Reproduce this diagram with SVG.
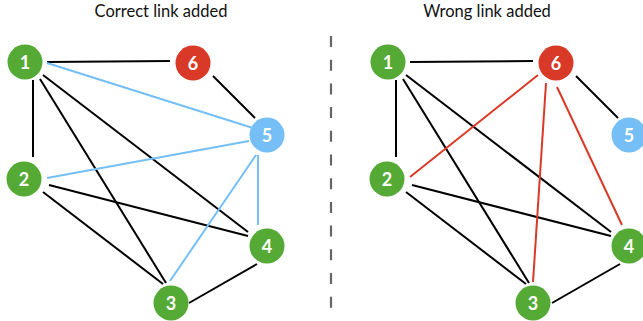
<svg xmlns="http://www.w3.org/2000/svg" width="643" height="321" viewBox="0 0 643 321">
<style>
.t{font-family:Lato,"Noto Sans","Liberation Sans",sans-serif;font-size:16.5px;fill:#111;text-anchor:middle}
.n text{font-family:Lato,"Open Sans","Liberation Sans",sans-serif;font-weight:bold;font-size:18px;fill:#fff;text-anchor:middle;dominant-baseline:central}
.g circle{fill:#55aa35}
.r circle{fill:#d83a27}
.b circle{fill:#75bff6}
.k{stroke:#000;stroke-width:2;fill:none}
.bl{stroke:#75bff6;stroke-width:2;fill:none}
.rd{stroke:#d83a27;stroke-width:2;fill:none}
</style>
<rect width="643" height="321" fill="#fff"/>
<text class="t" x="161" y="17">Correct link added</text>
<text class="t" x="487" y="17">Wrong link added</text>
<line x1="331" y1="36" x2="331" y2="312" stroke="#666" stroke-width="2.2" stroke-dasharray="11 12.7"/>
<g id="connectors">
  <g id="left-edges">
    <line class="k" x1="47" y1="62" x2="170" y2="61"/>
    <line class="k" x1="213" y1="76" x2="255" y2="118"/>
    <line class="k" x1="33" y1="80" x2="33" y2="157"/>
    <line class="k" x1="40" y1="79" x2="166" y2="283"/>
    <line class="k" x1="43" y1="75" x2="248" y2="232"/>
    <line class="k" x1="49" y1="185" x2="248" y2="236"/>
    <line class="k" x1="43" y1="192" x2="163" y2="284"/>
    <line class="k" x1="189" y1="303" x2="257" y2="264"/>
    <line class="bl" x1="47" y1="63" x2="253" y2="128"/>
    <line class="bl" x1="47" y1="178" x2="249" y2="141"/>
    <line class="bl" x1="170" y1="281" x2="256" y2="155"/>
    <line class="bl" x1="258" y1="155" x2="258" y2="225"/>
  </g>
  <g id="right-edges">
    <line class="k" x1="410" y1="62" x2="533" y2="61"/>
    <line class="k" x1="576" y1="76" x2="618" y2="118"/>
    <line class="k" x1="396" y1="80" x2="396" y2="157"/>
    <line class="k" x1="403" y1="79" x2="529" y2="283"/>
    <line class="k" x1="406" y1="75" x2="611" y2="232"/>
    <line class="k" x1="412" y1="185" x2="611" y2="236"/>
    <line class="k" x1="406" y1="192" x2="526" y2="284"/>
    <line class="k" x1="552" y1="303" x2="620" y2="264"/>
    <line class="rd" x1="538" y1="75" x2="410" y2="177"/>
    <line class="rd" x1="546" y1="83" x2="533" y2="282"/>
    <line class="rd" x1="557" y1="87" x2="622" y2="225"/>
  </g>
</g>
<g id="L1" class="n g"><circle cx="25" cy="62" r="17.5"/><text x="25" y="62">1</text></g>
<g id="L6" class="n r"><circle cx="193" cy="63" r="17.5"/><text x="193" y="63">6</text></g>
<g id="L5" class="n b"><circle cx="267" cy="135" r="17.5"/><text x="267" y="135">5</text></g>
<g id="L2" class="n g"><circle cx="24" cy="179" r="17.5"/><text x="24" y="179">2</text></g>
<g id="L4" class="n g"><circle cx="267" cy="246" r="17.5"/><text x="267" y="246">4</text></g>
<g id="L3" class="n g"><circle cx="171" cy="303" r="17.5"/><text x="171" y="303">3</text></g>
<g id="R1" class="n g"><circle cx="388" cy="62" r="17.5"/><text x="388" y="62">1</text></g>
<g id="R6" class="n r"><circle cx="556" cy="63" r="17.5"/><text x="556" y="63">6</text></g>
<g id="R5" class="n b"><circle cx="629" cy="135" r="17.5"/><text x="629" y="135">5</text></g>
<g id="R2" class="n g"><circle cx="387" cy="179" r="17.5"/><text x="387" y="179">2</text></g>
<g id="R4" class="n g"><circle cx="629" cy="246" r="17.5"/><text x="629" y="246">4</text></g>
<g id="R3" class="n g"><circle cx="533" cy="303" r="17.5"/><text x="533" y="303">3</text></g>
</svg>
